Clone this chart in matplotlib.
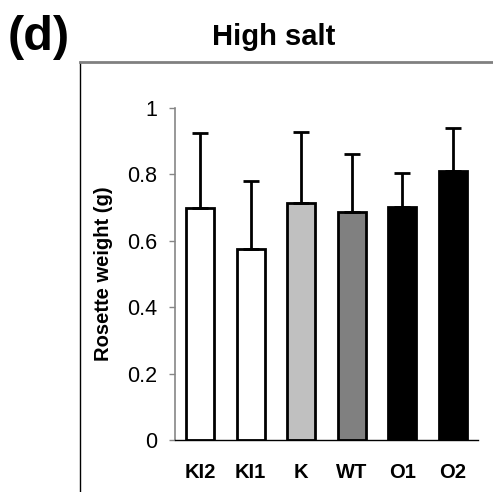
import matplotlib.pyplot as plt
from matplotlib.lines import Line2D

plt.rcParams['font.family'] = ['Liberation Sans', 'DejaVu Sans']

# data
lines = ['KI2', 'KI1', 'K', 'WT', 'O1', 'O2']
weight = [0.700, 0.574, 0.713, 0.686, 0.703, 0.811]
err = [0.224, 0.206, 0.216, 0.176, 0.102, 0.130]
bar_colors = ['white', 'white', '#C0C0C0', '#808080', 'black', 'black']

W, H = 493, 492
fig = plt.figure(figsize=(W / 100, H / 100), dpi=100)
ax = fig.add_axes([175 / W, 1 - 440 / H, (478 - 175) / W, (440 - 108) / H])

x = range(len(lines))
ax.bar(x, weight, width=0.56, color=bar_colors, edgecolor='black',
       linewidth=2, zorder=2)
ax.errorbar(x, weight, yerr=[[0] * len(err), err], fmt='none',
            ecolor='black', elinewidth=2, capsize=6, capthick=2, zorder=3)

ax.set_xlim(-0.5, len(lines) - 0.5)
ax.set_ylim(0, 1)
ax.set_yticks([0, 0.2, 0.4, 0.6, 0.8, 1])
ax.set_yticklabels(['0', '0.2', '0.4', '0.6', '0.8', '1'])
ax.set_xticks(list(x))
ax.set_xticklabels(lines, fontweight='bold')
ax.tick_params(axis='y', length=4.3, width=1, color='#868686', labelsize=15.5, pad=8.5)
ax.tick_params(axis='x', length=0, labelsize=14.5, pad=16.5)
for s in ['top', 'right']:
    ax.spines[s].set_visible(False)
ax.spines['left'].set_color('#868686')
ax.spines['left'].set_linewidth(1.2)
ax.spines['bottom'].set_color('black')
ax.spines['bottom'].set_linewidth(1)
ax.set_ylabel('Rosette weight (g)', fontsize=14.5, fontweight='bold')
ax.yaxis.set_label_coords((113 - 175) / (478 - 175), 0.5)

# outer frame (left and top lines)
fig.add_artist(Line2D([80 / W, 80 / W], [0, 1 - 62 / H], color='black',
                      linewidth=1, transform=fig.transFigure))
fig.add_artist(Line2D([79.5 / W, 1], [1 - 62 / H, 1 - 62 / H], color='#808080',
                      linewidth=2, transform=fig.transFigure))

fig.text(274 / W, 1 - 37 / H, 'High salt', fontsize=21, fontweight='bold',
         ha='center', va='center')
fig.text(8 / W, 1 - 37 / H, '(d)', fontsize=35, fontweight='bold',
         ha='left', va='center')

fig.savefig('out.png', dpi=100)
